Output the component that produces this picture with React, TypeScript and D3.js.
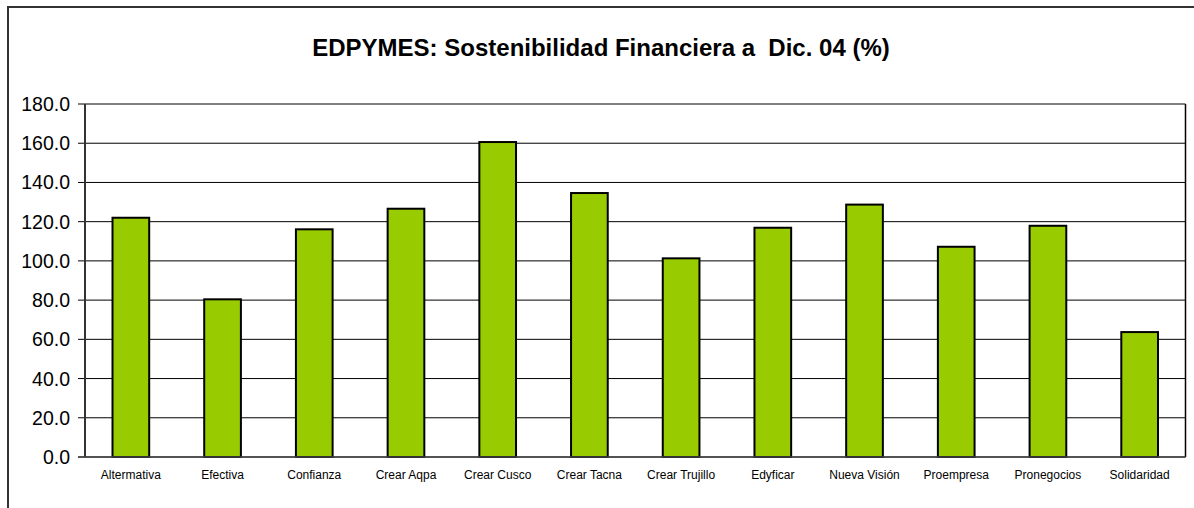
import React from "react";
import * as d3 from "d3";

const categories = [
  "Altermativa",
  "Efectiva",
  "Confianza",
  "Crear Aqpa",
  "Crear Cusco",
  "Crear Tacna",
  "Crear Trujillo",
  "Edyficar",
  "Nueva Visión",
  "Proempresa",
  "Pronegocios",
  "Solidaridad",
];

const values = [122.0, 80.4, 116.1, 126.6, 160.6, 134.6, 101.3, 116.9, 128.7, 107.2, 117.9, 63.7];

const yTicks = [0, 20, 40, 60, 80, 100, 120, 140, 160, 180];

const title = "EDPYMES: Sostenibilidad Financiera a  Dic. 04 (%)";

const font = "'Liberation Sans', Arial, sans-serif";

const App = () => {
  const width = 1194;
  const height = 508;
  const margins = { top: 104, right: 1194 - 1185.5, bottom: 508 - 457, left: 85 };

  const xScale = d3
    .scaleBand()
    .domain(categories)
    .range([margins.left, width - margins.right])
    .paddingInner(0.6)
    .paddingOuter(0.3);

  const yScale = d3
    .scaleLinear()
    .domain([0, 180])
    .range([height - margins.bottom, margins.top]);

  const x0 = margins.left;
  const x1 = width - margins.right;

  const gridLines = yTicks.map((t) => (
    <g key={t}>
      <line x1={x0 - 7} x2={x1} y1={yScale(t)} y2={yScale(t)} stroke="#000" strokeWidth={1} />
      <text
        x={70}
        y={yScale(t)}
        dy="0.36em"
        textAnchor="end"
        fontSize={19.5}
        fill="#000"
      >
        {t.toFixed(1)}
      </text>
    </g>
  ));

  const bars = categories.map((c, i) => (
    <rect
      key={c}
      x={xScale(c)}
      y={yScale(values[i])}
      width={xScale.bandwidth()}
      height={yScale(0) - yScale(values[i])}
      fill="#99CC00"
      stroke="#000"
      strokeWidth={2}
    />
  ));

  const labels = categories.map((c) => (
    <text
      key={c}
      x={(xScale(c) || 0) + xScale.bandwidth() / 2}
      y={479}
      textAnchor="middle"
      fontSize={12}
      fill="#000"
    >
      {c}
    </text>
  ));

  return (
    <svg
      width={width}
      height={height}
      style={{ position: "absolute", left: 0, top: 0, fontFamily: font }}
    >
      <rect x={0} y={0} width={width} height={height} fill="#fff" />
      <rect x={8} y={7} width={1240} height={600} fill="none" stroke="#333" strokeWidth={2} />
      <text
        x={601}
        y={56}
        textAnchor="middle"
        fontSize={24}
        fontWeight="bold"
        fill="#000"
        style={{ whiteSpace: "pre" }}
      >
        {title}
      </text>
      <g>{gridLines}</g>
      <line x1={x1} x2={x1} y1={yScale(180)} y2={yScale(0)} stroke="#000" strokeWidth={1.5} />
      <g>{bars}</g>
      <line x1={x0} x2={x0} y1={yScale(180)} y2={yScale(0)} stroke="#333" strokeWidth={2} />
      <line x1={x0 - 7} x2={x1} y1={yScale(0)} y2={yScale(0)} stroke="#444" strokeWidth={1.5} />
      <g>{labels}</g>
    </svg>
  );
};

export default App;
